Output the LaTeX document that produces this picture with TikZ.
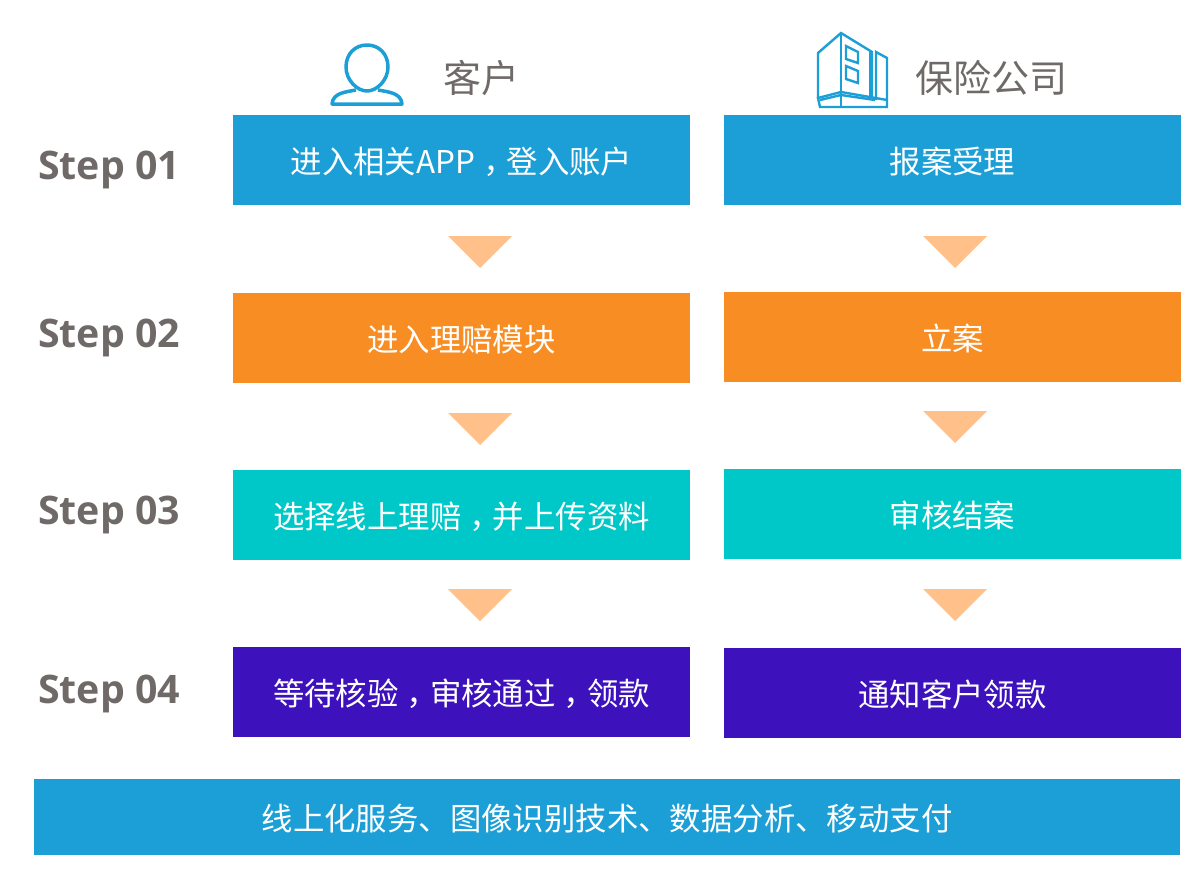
\documentclass[tikz,border=0pt]{standalone}
\usepackage{fontspec}
\setmainfont{Noto Sans CJK SC}
\newfontfamily\stepfont{Open Sans}
\newfontfamily\commafont{Noto Sans CJK TC}
\newcommand{\flowcomma}{\raisebox{-9pt}{\commafont ，}}
\definecolor{flowblue}{HTML}{1C9FD6}
\definecolor{floworange}{HTML}{F88D24}
\definecolor{flowteal}{HTML}{00C8C8}
\definecolor{flowpurple}{HTML}{3D11BB}
\definecolor{flowarrow}{HTML}{FFC08A}
\definecolor{flowgray}{HTML}{6F6A68}

\begin{document}
\begin{tikzpicture}[x=1pt,y=-1pt,node distance=491pt,
                    box node/.style={minimum width=457pt,minimum height=90pt,inner sep=0pt,
                      text height=31pt,text depth=4pt,
                      text=white,font=\fontsize{31.4}{36}\selectfont},
                    step node/.style={text=flowgray,inner sep=0pt,font=\stepfont\bfseries\fontsize{39.3}{44}\selectfont},
                    head node/.style={text=flowgray,inner sep=0pt,font=\fontsize{38}{44}\selectfont},
                    icon line/.style={draw=flowblue,line width=3.5pt,line join=round},
                    thin icon/.style={draw=flowblue,line width=2.4pt}]
  \useasboundingbox (0,0) rectangle (1202,878);
  \node[box node,fill=flowblue] (c1) at (461.5,160) {进入相关APP\flowcomma 登入账户};
  \node[box node,fill=floworange] (c2) at (461.5,338) {进入理赔模块};
  \node[box node,fill=flowteal] (c3) at (461.5,515) {选择线上理赔\flowcomma 并上传资料};
  \node[box node,fill=flowpurple] (c4) at (461.5,692) {等待核验\flowcomma 审核通过\flowcomma 领款};
  \node[box node,fill=flowblue] (i1) [right of=c1] {报案受理};
  \node[box node,fill=floworange,yshift=1pt] (i2) [right of=c2] {立案};
  \node[box node,fill=flowteal,yshift=1pt] (i3) [right of=c3] {审核结案};
  \node[box node,fill=flowpurple,yshift=-1pt] (i4) [right of=c4] {通知客户领款};
  \node[box node,fill=flowblue,minimum width=1146pt,minimum height=76pt] (tech) at (607,817)
    {线上化服务、图像识别技术、数据分析、移动支付};
  \node[step node] (s1) at (109,170) {Step 01};
  \node[step node] (s2) at (109,338) {Step 02};
  \node[step node] (s3) at (109,515) {Step 03};
  \node[step node] (s4) at (109,694) {Step 04};
  \node[head node] (client) at (481,78) {客户};
  \node[head node] (insurer) at (991,78) {保险公司};
  % down triangles
  \foreach \x/\y in {480/236,480/413,480/589,955/236,955/411,955/589}
    \fill[flowarrow] (\x-32,\y) -- (\x+32,\y) -- (\x,\y+32) -- cycle;
  % person
  \draw[icon line] (367,45) .. controls (379,45) and (388,54) .. (388,67)
    .. controls (388,80) and (377,91) .. (367,91)
    .. controls (357,91) and (346,80) .. (346,67)
    .. controls (346,54) and (355,45) .. (367,45);
  \draw[icon line] (356,90) .. controls (345,92) and (333,93) .. (332,104)
    -- (402,104) .. controls (401,93) and (389,92) .. (378,90);
  % building
  \draw[thin icon] (818,98) -- (818,53) -- (841,33) -- (872,52) -- (872,97);
  \draw[thin icon] (841,33) -- (841,107);
  \draw[thin icon] (876,100) -- (876,52) -- (887,58) -- (887,107) -- (820,107) -- (818,98) -- (841,92) -- (887,100);
  \draw[thin icon] (820,100) -- (841,95) -- (875,100);
  \draw[thin icon] (870,52) -- (870,96);
  \draw[thin icon] (846,46) -- (858,52) -- (858,63) -- (846,59) -- cycle;
  \draw[thin icon] (846,66) -- (858,71) -- (858,83) -- (846,79) -- cycle;
\end{tikzpicture}
\end{document}
